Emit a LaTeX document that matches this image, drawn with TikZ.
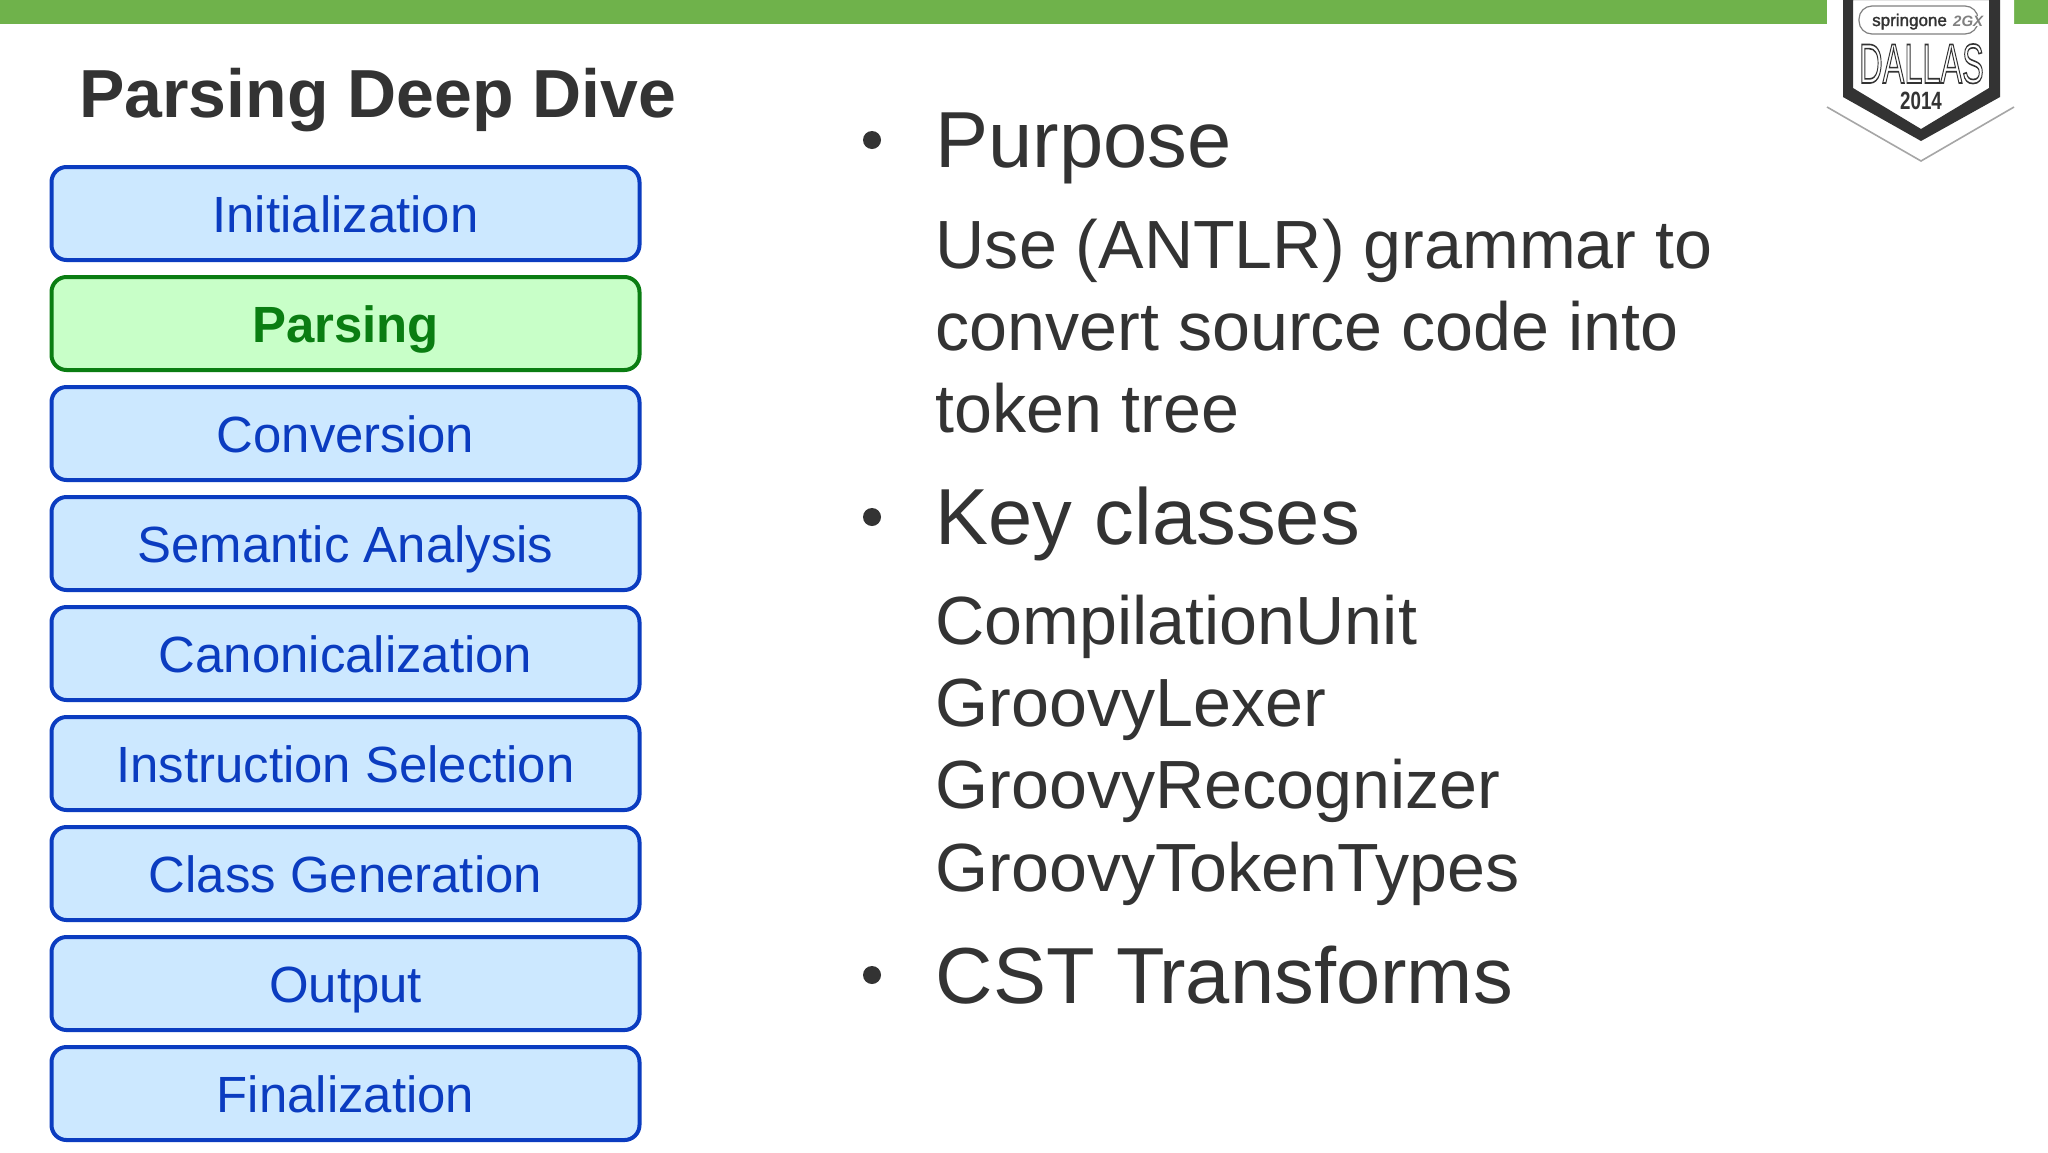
\documentclass[tikz,border=0pt]{standalone}
\usepackage{fontspec}
\setmainfont{Liberation Sans}
\definecolor{ink}{HTML}{333333}
\definecolor{bandg}{HTML}{6FB24B}
\definecolor{boxfill}{HTML}{CCE8FF}
\definecolor{boxline}{HTML}{0B3CC0}
\definecolor{grfill}{HTML}{C8FFC8}
\definecolor{grline}{HTML}{0A7D12}
\newcommand{\fsz}[1]{\fontsize{#1}{#1}\selectfont}
\tikzset{
  stage/.style={draw=boxline,fill=boxfill,line width=4pt,rounded corners=15pt,text=boxline,
    minimum width=588pt,inner sep=0pt,outer sep=0pt,text height=65pt,text depth=28pt,font=\fsz{50.9},anchor=north west},
  stageact/.style={stage,draw=grline,fill=grfill,text=grline,font=\fsz{50.9}\bfseries},
  head/.style={anchor=base west,inner sep=0pt,text=ink,font=\fsz{79.5}},
  sub/.style={anchor=base west,inner sep=0pt,text=ink,font=\fsz{68.2}},
  bul/.style={circle,fill=ink,inner sep=0pt,minimum size=18pt},
  badge/.style={inner sep=0pt,text=ink}
}
\begin{document}
\begin{tikzpicture}[x=1pt,y=-1pt]
\useasboundingbox (0,0) rectangle (2048,1152);
\fill[white] (0,0) rectangle (2048,1152);
\fill[bandg] (0,0) rectangle (2048,24);
% badge
\fill[white] (1827,0) -- (2014,0) -- (2014,107) -- (1921,161) -- (1827,107) -- cycle;
\draw[gray!70,line width=1.6pt] (1827,107) -- (1921,161) -- (2014,107);
\fill[ink,even odd rule] (1843,0) -- (2000,0) -- (2000,97) -- (1921,141) -- (1843,97) -- cycle
  (1853,0) -- (1989,0) -- (1989,88) -- (1921,129) -- (1853,88) -- cycle;
\draw[gray,line width=1.2pt,rounded corners=13pt] (1859,6) rectangle (1978,34);
\node[badge,anchor=base west,font=\fsz{17}] (brand) at (1872,26) {\special{pdf:code 2 Tr 0.3 w}springone\special{pdf:code 0 Tr}};
\node[badge,anchor=base west,font=\fsz{15}\itshape\bfseries,text=gray,fill=white] (twogx) at (1953,26) {2GX};
\node[badge,anchor=base,font=\fsz{56}] (city) at (1921.5,83) {\scalebox{0.58}[1]{\special{pdf:code 1 Tr 1.6 w}DALLAS\special{pdf:code 0 Tr}}};
\node[badge,anchor=base,font=\fsz{25}\bfseries] (year) at (1921,109) {\scalebox{0.75}[1]{2014}};
% left
\node[anchor=base west,inner sep=0pt,text=ink,font=\fsz{68}\bfseries] (title) at (79,117.5) {Parsing Deep Dive};
\node[stage] (s1) at (51.5,167) {Initialization};
\node[stageact] (s2) at (51.5,277) {Parsing};
\node[stage] (s3) at (51.5,387) {Conversion};
\node[stage] (s4) at (51.5,497) {Semantic Analysis};
\node[stage] (s5) at (51.5,607) {Canonicalization};
\node[stage] (s6) at (51.5,717) {Instruction Selection};
\node[stage] (s7) at (51.5,827) {Class Generation};
\node[stage] (s8) at (51.5,937) {Output};
\node[stage] (s9) at (51.5,1047) {Finalization};
% right
\node[bul] (b1) at (872,140) {};
\node[bul] (b2) at (872,517) {};
\node[bul] (b3) at (872,975) {};
\node[head] (t1) at (935.5,167) {Purpose};
\node[sub] (t2) at (935.5,268) {Use (ANTLR) grammar to};
\node[sub] (t3) at (935.5,350) {convert source code into};
\node[sub] (t4) at (935.5,432.5) {token tree};
\node[head] (t5) at (935.5,544) {Key classes};
\node[sub] (t6) at (935.5,644.5) {CompilationUnit};
\node[sub] (t7) at (935.5,726) {GroovyLexer};
\node[sub] (t8) at (935.5,808.5) {GroovyRecognizer};
\node[sub] (t9) at (935.5,891) {GroovyTokenTypes};
\node[head] (t10) at (935.5,1003) {CST T\kern-6ptransforms};
\end{tikzpicture}
\end{document}
